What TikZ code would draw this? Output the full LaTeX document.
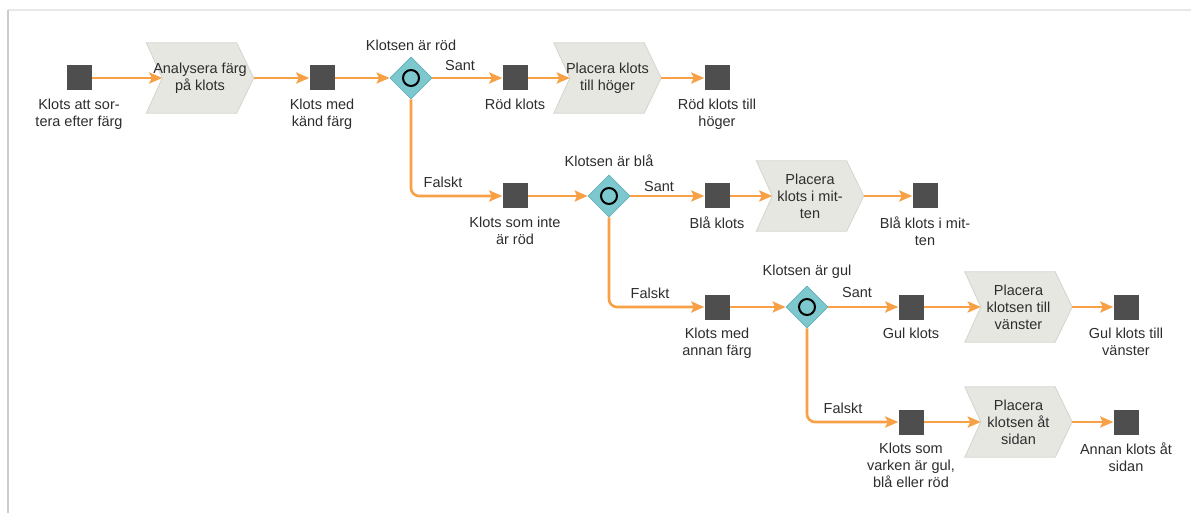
\documentclass[tikz,border=0pt]{standalone}
\usepackage{fontspec}
\setmainfont{Liberation Sans}
\usetikzlibrary{shapes.geometric,arrows.meta,positioning,backgrounds}
\definecolor{flowc}{RGB}{247,160,70}
\definecolor{sqc}{RGB}{78,78,78}
\definecolor{chevfill}{RGB}{231,231,226}
\definecolor{chevline}{RGB}{212,212,206}
\definecolor{decfill}{RGB}{125,200,206}
\definecolor{decline}{RGB}{96,176,186}
\definecolor{txtc}{RGB}{45,45,45}
\tikzset{
  sq/.style={rectangle,fill=sqc,minimum size=25pt,inner sep=0pt},
  lbl/.style={text=txtc,font=\fontsize{14.5}{17}\selectfont,align=center,inner sep=0pt},
  chev/.style={lbl,minimum width=107pt,minimum height=70pt},
  chevst/.style={fill=chevfill,draw=chevline,line width=0.8pt},
  dec/.style={diamond,fill=decfill,draw=decline,line width=0.8pt,minimum width=42pt,minimum height=42pt,inner sep=0pt},
  ring/.style={circle,draw=black,line width=2pt,fill=decfill,minimum size=16pt,inner sep=0pt},
  flow/.style={draw=flowc,line width=2.6pt,-{Stealth[length=13pt,width=11pt,inset=2.5pt]}},
  branch/.style={flow,rounded corners=8pt}
}
\newcommand\chevbg[1]{%
  \begin{scope}[on background layer]
  \draw[chevst] (#1.north west) -- ([xshift=-17pt]#1.north east) -- (#1.east)
    -- ([xshift=-17pt]#1.south east) -- (#1.south west) -- ([xshift=16pt]#1.west) -- cycle;
  \end{scope}}
\begin{document}
\begin{tikzpicture}[x=1pt,y=-1pt]
\useasboundingbox (0,0) rectangle (1191,513);
% frame
\draw[gray!18,line width=2pt] (8,10) -- (1191,10);
\draw[gray!40,line width=2pt] (8,10) -- (8,513);

% ---------- row 1
\node[sq] (s1) at (79,78) {};
\node[lbl,below=8pt of s1] (t1) {Klots att sor-\\tera efter färg};
\node[chev] (c1) at (200,78) {Analysera färg\\på klots};
\chevbg{c1}
\node[sq] (s2) at (322,78) {};
\node[lbl,below=8pt of s2] (t2) {Klots med\\känd färg};
\node[dec] (d1) at (411,78) {};
\node[ring] (r1) at (d1) {};
\node[lbl] (q1) at (411,45) {Klotsen är röd};
\node[sq] (s3) at (515,78) {};
\node[lbl,below=8pt of s3] (t3) {Röd klots};
\node[chev] (c2) at (607.5,78) {Placera klots\\till höger};
\chevbg{c2}
\node[sq] (s4) at (717,78) {};
\node[lbl,below=8pt of s4] (t4) {Röd klots till\\höger};

% ---------- row 2
\node[sq] (s5) at (515,196) {};
\node[lbl,below=8pt of s5] (t5) {Klots som inte\\är röd};
\node[dec] (d2) at (609,196) {};
\node[ring] (r2) at (d2) {};
\node[lbl] (q2) at (609,161) {Klotsen är blå};
\node[sq] (s6) at (717,196) {};
\node[lbl,below=8pt of s6] (t6) {Blå klots};
\node[chev] (c3) at (810,196) {Placera\\klots i mit-\\ten};
\chevbg{c3}
\node[sq] (s7) at (925,196) {};
\node[lbl,below=8pt of s7] (t7) {Blå klots i mit-\\ten};

% ---------- row 3
\node[sq] (s8) at (717,307) {};
\node[lbl,below=8pt of s8] (t8) {Klots med\\annan färg};
\node[dec] (d3) at (807,307) {};
\node[ring] (r3) at (d3) {};
\node[lbl] (q3) at (807,272) {Klotsen är gul};
\node[sq] (s9) at (911,307) {};
\node[lbl,below=8pt of s9] (t9) {Gul klots};
\node[chev] (c4) at (1018.5,307) {Placera\\klotsen till\\vänster};
\chevbg{c4}
\node[sq] (s10) at (1126,307) {};
\node[lbl,below=8pt of s10] (t10) {Gul klots till\\vänster};

% ---------- row 4
\node[sq] (s11) at (911,422) {};
\node[lbl,below=8pt of s11] (t11) {Klots som\\varken är gul,\\blå eller röd};
\node[chev] (c5) at (1018.5,422) {Placera\\klotsen åt\\sidan};
\chevbg{c5}
\node[sq] (s12) at (1126,422) {};
\node[lbl,below=8pt of s12] (t12) {Annan klots åt\\sidan};

% ---------- connectors
\draw[flow] (s1) -- ([xshift=16pt]c1.west);
\draw[flow] (c1.east) -- (s2);
\draw[flow] (s2) -- (d1.west);
\draw[flow] (d1.east) -- (s3);
\draw[flow] (s3) -- ([xshift=16pt]c2.west);
\draw[flow] (c2.east) -- (s4);
\draw[branch] (d1.south) |- (s5.west);
\draw[flow] (s5) -- (d2.west);
\draw[flow] (d2.east) -- (s6);
\draw[flow] (s6) -- ([xshift=16pt]c3.west);
\draw[flow] (c3.east) -- (s7);
\draw[branch] (d2.south) |- (s8.west);
\draw[flow] (s8) -- (d3.west);
\draw[flow] (d3.east) -- (s9);
\draw[flow] (s9) -- ([xshift=16pt]c4.west);
\draw[flow] (c4.east) -- (s10);
\draw[branch] (d3.south) |- (s11.west);
\draw[flow] (s11) -- ([xshift=16pt]c5.west);
\draw[flow] (c5.east) -- (s12);

% branch labels
\node[lbl] (a1) at (460,66) {Sant};
\node[lbl] (a2) at (659,187) {Sant};
\node[lbl] (a3) at (857,293) {Sant};
\node[lbl] (b1) at (443,182) {Falskt};
\node[lbl] (b2) at (650,293) {Falskt};
\node[lbl] (b3) at (843,408) {Falskt};
\end{tikzpicture}
\end{document}
